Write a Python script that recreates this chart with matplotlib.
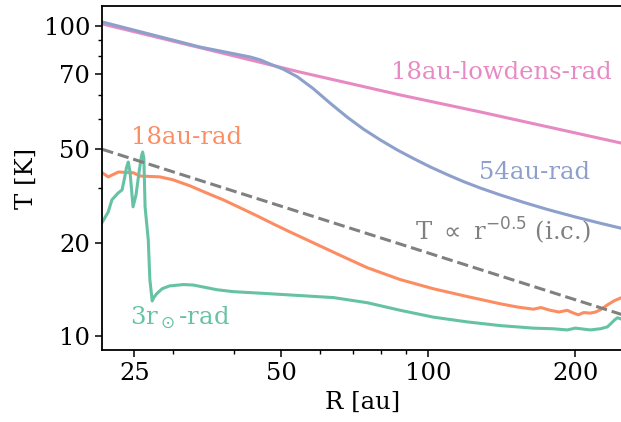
import matplotlib
matplotlib.use("Agg")
import matplotlib.pyplot as plt
from matplotlib.ticker import NullFormatter, LogLocator

plt.rcParams['font.family'] = 'DejaVu Serif'
plt.rcParams['font.size'] = 17.5

# 18au-lowdens-rad
r_pink = [21.5, 39.3, 54.6, 87.6, 127.8, 250.0]
t_pink = [101.5, 80.6, 71.0, 59.9, 52.8, 41.8]

# 54au-rad
r_blue = [21.5, 34.1, 39.3, 43.2, 45.3, 47.4, 50.4, 53.9, 58.1, 62.9, 68.2, 73.6,
          79.7, 86.4, 93.1, 100.9, 109.3, 117.9, 127.8, 140.4, 157.0, 175.2,
          200.0, 225.0, 250.0]
t_blue = [103.0, 85.5, 81.8, 79.4, 77.7, 75.4, 72.6, 68.6, 62.8, 56.4, 50.8, 46.5,
          42.9, 39.8, 37.4, 35.1, 33.15, 31.5, 30.0, 28.5, 26.95, 25.6,
          24.2, 23.1, 22.2]

# 18au-rad
r_orange = [21.5, 22.1, 23.2, 24.9, 25.7, 28.2, 30.0, 32.5, 35.2, 38.0, 41.2, 44.6,
            48.1, 52.1, 56.5, 66.0, 75.0, 87.6, 102.4, 120.2, 140.4, 152.1, 164.0,
            170.0, 177.7, 185.0, 192.5, 197.0, 202.8, 208.0, 214.6, 220.0, 225.0,
            232.6, 240.4, 250.0]
t_orange = [33.6, 32.6, 33.8, 33.6, 32.8, 32.6, 31.9, 30.5, 28.9, 27.5, 25.9, 24.4,
            23.0, 21.65, 20.4, 18.2, 16.6, 15.2, 14.2, 13.4, 12.7, 12.4, 12.2,
            12.35, 12.1, 11.95, 12.1, 11.9, 11.7, 11.9, 11.85, 11.95, 12.15,
            12.6, 13.0, 13.35]

# 3r_sun-rad
r_green = [21.5, 22.1, 22.5, 23.15, 23.6, 23.9, 24.1, 24.3, 24.5, 24.85, 25.2, 25.6,
           25.85, 26.0, 26.15, 26.3, 26.7, 26.9, 27.2, 27.4, 27.8, 28.5, 29.5, 31.5,
           33.0, 36.9, 39.8, 46.8, 54.6, 63.9, 75.0, 87.6, 102.4, 120.2, 140.4,
           164.0, 180.0, 192.5, 200.0, 214.6, 225.0, 232.6, 240.4, 243.8, 250.0]
t_green = [23.3, 25.1, 27.5, 28.9, 29.6, 32.6, 35.0, 36.4, 33.8, 26.1, 28.5, 34.3,
           38.0, 39.2, 37.5, 26.1, 20.4, 15.2, 12.97, 13.3, 13.7, 14.2, 14.5, 14.65,
           14.6, 14.1, 13.9, 13.7, 13.5, 13.3, 12.8, 12.1, 11.5, 11.1, 10.8,
           10.6, 10.55, 10.46, 10.6, 10.46, 10.55, 10.7, 11.25, 11.45, 11.3]

# initial condition T ~ r^-0.5
r_ic = [21.5, 250.0]
t_ic = [40.0, 11.7]

fig = plt.figure(figsize=(6.21, 4.22), dpi=100)
ax = fig.add_axes([0.1643, 0.1706, 0.8396, 0.8152])

lw = 2.2
ax.plot(r_pink, t_pink, color='#e78ac3', lw=lw)
ax.plot(r_blue, t_blue, color='#8da0cb', lw=lw)
ax.plot(r_orange, t_orange, color='#fc8d62', lw=lw)
ax.plot(r_green, t_green, color='#66c2a5', lw=lw)
ax.plot(r_ic, t_ic, color='gray', lw=lw, ls='--')

ax.text(83.9, 67.5, '18au-lowdens-rad', color='#e78ac3')
ax.text(127.2, 32.1, '54au-rad', color='#8da0cb')
ax.text(24.6, 41.6, '18au-rad', color='#fc8d62')
ax.text(24.5, 10.85, r'3r$_\odot$-rad', color='#66c2a5')
ax.text(94.0, 20.4, r'T $\propto$ r$^{-0.5}$ (i.c.)', color='gray')

ax.set_xscale('log')
ax.set_yscale('log')
ax.set_xlim(21.47, 250.8)
ax.set_ylim(9.01, 116.0)

ax.set_xticks([25, 50, 100, 200], ['25', '50', '100', '200'])
ax.set_yticks([10, 20, 40, 70, 100], ['10', '20', '50', '70', '100'])
ax.xaxis.set_minor_locator(LogLocator(subs='all'))
ax.yaxis.set_minor_locator(LogLocator(subs='all'))
ax.xaxis.set_minor_formatter(NullFormatter())
ax.yaxis.set_minor_formatter(NullFormatter())
ax.tick_params(which='major', length=5, width=1.1)
ax.tick_params(which='minor', length=3, width=1.0)
for s in ax.spines.values():
    s.set_linewidth(1.3)

ax.set_xlabel('R [au]')
ax.set_ylabel('T [K]')

fig.savefig('out.png', dpi=100)
